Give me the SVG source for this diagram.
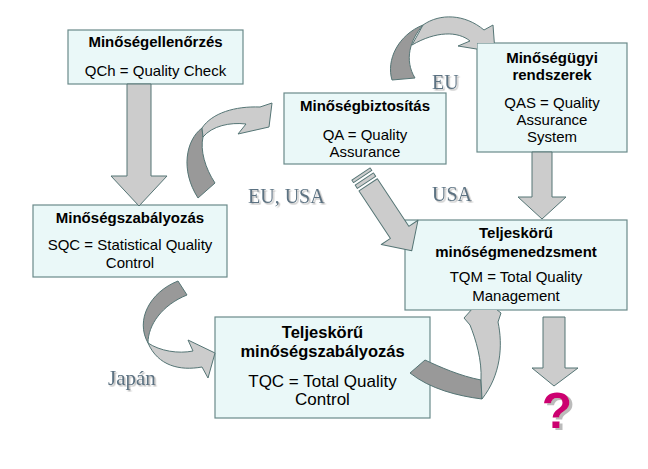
<svg xmlns="http://www.w3.org/2000/svg" width="648" height="469" viewBox="0 0 648 469">
<style>
.box{fill:#EAF8F8;stroke:#6A8A8A;stroke-width:1.2}
.t{font-family:"Liberation Sans",Arial,sans-serif;font-size:15px;fill:#000;text-anchor:middle}
.b{font-weight:bold}
.lt{fill:#CCCCCC;stroke:#557575;stroke-width:1;stroke-linejoin:round}
.dk{fill:#999999;stroke:#557575;stroke-width:1;stroke-linejoin:round}
.lbl{font-family:"Liberation Serif","Times New Roman",serif;font-size:20px;fill:#5B7282;filter:url(#sh)}
.q{font-family:"Liberation Sans",Arial,sans-serif;font-size:50px;font-weight:bold;fill:#CC0070;text-anchor:middle;filter:url(#shq)}
</style>
<defs>
<filter id="sh" x="-10%" y="-20%" width="130%" height="150%"><feDropShadow dx="1.5" dy="1.5" stdDeviation="0.3" flood-color="#BBBBBB" flood-opacity="1"/></filter>
<filter id="shq" x="-20%" y="-20%" width="150%" height="150%"><feDropShadow dx="3" dy="2" stdDeviation="0.5" flood-color="#BBBBBB" flood-opacity="1"/></filter>
<clipPath id="notQAS"><path clip-rule="evenodd" d="M0 0H648V469H0Z M477 43H627V152H477Z"/></clipPath>
<clipPath id="notTQM"><path clip-rule="evenodd" d="M0 0H648V469H0Z M405 220H627V310H405Z"/></clipPath>
</defs>
<rect width="648" height="469" fill="#FFFFFF"/>

<g id="qch">
<rect class="box" x="68" y="30" width="175" height="54"/>
<text class="t b" x="155.5" y="47">Minőségellenőrzés</text>
<text class="t" x="155.5" y="76">QCh = Quality Check</text>
</g>

<g id="qa">
<rect class="box" x="284" y="93" width="162" height="71"/>
<text class="t b" x="365" y="111">Minőségbiztosítás</text>
<text class="t" x="365" y="140">QA = Quality</text>
<text class="t" x="365" y="157">Assurance</text>
</g>

<g id="qas">
<rect class="box" x="477" y="43" width="150" height="109"/>
<text class="t b" x="552" y="63">Minőségügyi</text>
<text class="t b" x="552" y="80">rendszerek</text>
<text class="t" x="552" y="108">QAS = Quality</text>
<text class="t" x="552" y="125">Assurance</text>
<text class="t" x="552" y="142">System</text>
</g>

<g id="sqc">
<rect class="box" x="33" y="205" width="194" height="72"/>
<text class="t b" x="130" y="223">Minőségszabályozás</text>
<text class="t" x="130" y="250">SQC = Statistical Quality</text>
<text class="t" x="130" y="268">Control</text>
</g>

<g id="tqm">
<rect class="box" x="405" y="220" width="222" height="90"/>
<text class="t b" x="516" y="238">Teljeskörű</text>
<text class="t b" x="516" y="257">minőségmenedzsment</text>
<text class="t" x="516" y="282">TQM = Total Quality</text>
<text class="t" x="516" y="301">Management</text>
</g>

<g id="tqc">
<rect class="box" x="215" y="317" width="215" height="101"/>
<text class="t b" x="322.5" y="338" style="font-size:16.5px">Teljeskörű</text>
<text class="t b" x="322.5" y="357" style="font-size:16.5px">minőségszabályozás</text>
<text class="t" x="322.5" y="387" style="font-size:17px">TQC = Total Quality</text>
<text class="t" x="322.5" y="405" style="font-size:17px">Control</text>
</g>

<g id="connectors">
<!-- QCh -> SQC -->
<polygon class="lt" points="127,84 151,84 151,176 167,176 139,206 111,176 127,176"/>
<!-- SQC -> QA curved -->
<path class="dk" d="M202,128 C186,140 180,170 198,198 L215,183 C205,168 200,150 203,137 Z"/>
<path class="lt" d="M202,128 C212,113 235,106 260,107 L272,103 L269,127 L238,134 L246,124 C230,122 212,126 203,137 Z"/>
<!-- QA -> QAS curved -->
<g clip-path="url(#notQAS)">
<path class="dk" d="M392,80 C386,60 398,35 423,25 C410,40 404,60 415,78 Z"/>
<path class="lt" d="M423,25 C440,13 465,14 484,30 L493,25 L495,52 L458,46 L470,41 C458,31 436,31 412,45 Z"/>
</g>
<!-- QA -> TQM striped -->
<g transform="translate(361,174) rotate(56.5)">
<rect class="lt" x="0" y="-11" width="3" height="22"/>
<rect class="lt" x="6" y="-11" width="4" height="22"/>
<polygon class="lt" points="13,-11 70,-11 70,-22 92,0 70,22 70,11 13,11"/>
</g>
<!-- QAS -> TQM -->
<polygon class="lt" points="532,152 552,152 552,197 566,197 542,219 518,197 532,197"/>
<!-- SQC -> TQC curved -->
<path class="dk" d="M178,281 C150,292 135,320 148,343 C148,325 162,305 187,295 Z"/>
<path class="lt" d="M148,343 C160,351 178,354 193,351 L188,340 L215,353 L208,378 L202,367 C180,371 158,366 148,343 Z"/>
<!-- TQC -> TQM curved -->
<g clip-path="url(#notTQM)">
<path class="dk" d="M410,373 L425,360 C440,367 460,376 481,380 L482,399 C458,396 430,389 410,373 Z"/>
<path class="lt" d="M481,380 C482,360 476,340 470,325 L464,318 L482,298 L501,313 L498,322 C503,345 501,375 482,399 Z"/>
</g>
<!-- TQM -> ? -->
<polygon class="lt" points="543,317 565,317 565,368 578,368 554,386 532,368 543,368"/>
</g>

<g id="labels">
<text class="lbl" x="432" y="89">EU</text>
<text class="lbl" x="248" y="203">EU, USA</text>
<text class="lbl" x="432" y="201">USA</text>
<text class="lbl" x="108" y="385" style="font-size:21px">Japán</text>
<text class="q" x="557" y="428">?</text>
</g>
</svg>
